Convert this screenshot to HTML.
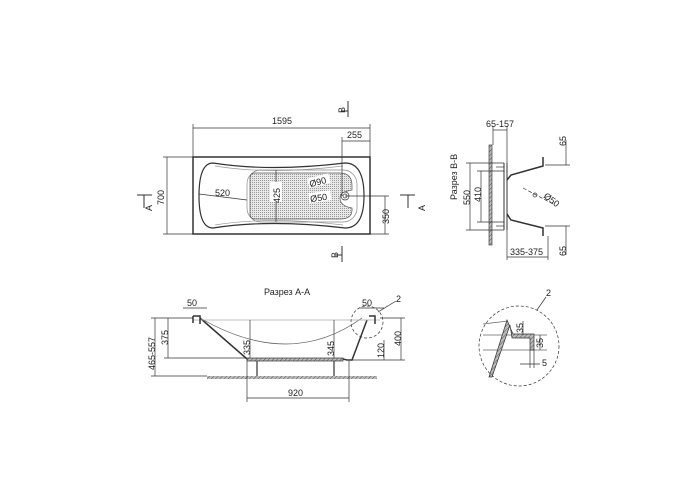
<!DOCTYPE html>
<html><head><meta charset="utf-8"><style>
html,body{margin:0;padding:0;background:#fff;width:700px;height:500px;overflow:hidden}
svg{display:block}
text{font-family:"Liberation Sans",sans-serif;font-size:9px;fill:#222}
</style></head><body>
<svg width="700" height="500" viewBox="0 0 700 500" xmlns="http://www.w3.org/2000/svg">
<defs>
<pattern id="h" width="3" height="3" patternUnits="userSpaceOnUse" patternTransform="rotate(45)"><rect width="3" height="3" fill="#bbb"/><line x1="0" y1="0" x2="0" y2="3" stroke="#555" stroke-width="1"/></pattern>
<pattern id="dots" width="2" height="2" patternUnits="userSpaceOnUse"><rect width="2" height="2" fill="#e8e8e8"/><rect width="1" height="1" fill="#999"/></pattern>
</defs>
<g stroke="#333" fill="none" stroke-width="0.7">
<!-- top view -->
<rect x="193" y="157" width="177" height="77" stroke-width="1.5"/>
<path d="M213,163 Q270,172 345,163 Q364,163 364,196 Q364,228 345,228 Q270,219 213,228 Q199,228 199,196 Q199,163 213,163Z" stroke-width="1.2"/>
<path d="M215,166 Q270,175 343,166 M215,225 Q270,216 343,225" stroke="#999"/>
<rect x="247" y="170" width="110" height="52" rx="14" stroke="#888"/>
<path d="M255,173 L340,173 Q352,173 352,186 L352,190 Q340,192 340,198 Q340,206 352,208 L352,210 Q352,219 340,219 L255,219 Q250,219 250,214 L250,178 Q250,173 255,173Z" fill="url(#dots)" stroke="#555"/>
<circle cx="345" cy="196" r="4" fill="#fff"/><circle cx="345" cy="196" r="2"/>
<line x1="193" y1="128" x2="370" y2="128"/><line x1="193" y1="124" x2="193" y2="157"/><line x1="370" y1="124" x2="370" y2="157"/>
<line x1="342" y1="141" x2="370" y2="141"/><line x1="342" y1="137" x2="342" y2="196"/>
<line x1="167" y1="157" x2="167" y2="234"/><line x1="163" y1="157" x2="193" y2="157"/><line x1="163" y1="234" x2="193" y2="234"/>
<line x1="385" y1="196" x2="385" y2="234"/><line x1="345" y1="196" x2="389" y2="196"/><line x1="370" y1="234" x2="389" y2="234"/>
<line x1="199" y1="194" x2="247" y2="200"/><line x1="276" y1="170" x2="276" y2="222"/>
<line x1="137" y1="195" x2="152" y2="195" stroke-width="1"/><line x1="144" y1="195" x2="144" y2="208" stroke-width="1"/>
<line x1="400" y1="195" x2="415" y2="195" stroke-width="1"/><line x1="408" y1="195" x2="408" y2="208" stroke-width="1"/>
<line x1="348" y1="101" x2="348" y2="117" stroke-width="1"/><line x1="341" y1="111" x2="348" y2="111" stroke-width="1"/>
<line x1="342" y1="246" x2="342" y2="262" stroke-width="1"/><line x1="335" y1="255" x2="342" y2="255" stroke-width="1"/>
<!-- section A-A -->
<rect x="207" y="376" width="170" height="3" fill="url(#h)" stroke="none"/>
<path d="M200,318 L247,359 L343,359 L347,360 L352,360 L367,320" stroke-width="1.5"/>
<rect x="247" y="358" width="96" height="3" fill="url(#h)" stroke="#333"/>
<path d="M200,318 Q290,370 362,318" stroke="#555"/>
<line x1="193" y1="320" x2="380" y2="320" stroke="#aaa"/>
<path d="M193,316 L200,316 L200,324 M193,316 L193,323" stroke-width="1.5"/>
<path d="M369,316 L375,316 L375,324" stroke-width="1.5"/>
<line x1="257" y1="361" x2="257" y2="376" stroke-width="1.2"/><line x1="334" y1="361" x2="334" y2="376" stroke-width="1.2"/>
<circle cx="367" cy="322" r="16" stroke-dasharray="3,2"/><line x1="378" y1="312" x2="396" y2="301"/>
<line x1="155" y1="318" x2="155" y2="376"/><line x1="151" y1="318" x2="193" y2="318"/><line x1="151" y1="376" x2="207" y2="376"/>
<line x1="168" y1="318" x2="168" y2="358"/><line x1="164" y1="358" x2="247" y2="358"/>
<line x1="250" y1="320" x2="250" y2="358"/><line x1="334" y1="320" x2="334" y2="358"/>
<line x1="384" y1="340" x2="384" y2="360"/><line x1="352" y1="360" x2="405" y2="360"/>
<line x1="401" y1="318" x2="401" y2="360"/><line x1="380" y1="318" x2="405" y2="318"/>
<line x1="247" y1="361" x2="247" y2="402"/><line x1="349" y1="361" x2="349" y2="402"/><line x1="247" y1="398" x2="349" y2="398"/>
<line x1="183" y1="308" x2="207" y2="308"/><line x1="360" y1="308" x2="384" y2="308"/>
<!-- section B-B -->
<rect x="489" y="145" width="3" height="100" fill="url(#h)" stroke="#444"/>
<path d="M504,163 L504,230 M507,163 L507,230" stroke-width="1"/>
<path d="M507,180 L511,175 L543,166 L543,157 M507,214 L511,220 L543,228 L543,236" stroke-width="1.5"/>
<line x1="496" y1="167" x2="504" y2="167"/><line x1="496" y1="226" x2="504" y2="226"/>
<line x1="470" y1="163" x2="470" y2="230"/><line x1="466" y1="163" x2="504" y2="163"/><line x1="466" y1="230" x2="504" y2="230"/>
<line x1="481" y1="171" x2="481" y2="222"/><line x1="477" y1="171" x2="504" y2="171"/><line x1="477" y1="222" x2="504" y2="222"/>
<line x1="493" y1="130" x2="507" y2="130"/><line x1="493" y1="126" x2="493" y2="145"/><line x1="507" y1="126" x2="507" y2="163"/>
<line x1="566" y1="140" x2="566" y2="165"/><line x1="545" y1="165" x2="570" y2="165"/>
<line x1="566" y1="226" x2="566" y2="255"/><line x1="545" y1="226" x2="570" y2="226"/>
<line x1="507" y1="257" x2="548" y2="257"/><line x1="548" y1="236" x2="548" y2="260"/><line x1="507" y1="230" x2="507" y2="260"/>
<line x1="523" y1="188" x2="555" y2="205" stroke-dasharray="4,2"/><circle cx="535" cy="195" r="2"/>
<!-- detail -->
<circle cx="519" cy="346" r="40" stroke-dasharray="3,2"/><line x1="537" y1="310" x2="546" y2="297"/>
<path d="M483,324 L508,321 M483,335 L547,335 M483,350 L547,350" stroke="#666"/>
<path d="M507,320 L489,377 L492,377 L510,325 L512,338 L530,338 L530,350 L534,350 L534,334 L513,334 Z" fill="url(#h)" stroke="#333"/>
<line x1="520" y1="364" x2="540" y2="364"/><line x1="530" y1="350" x2="530" y2="368"/><line x1="534" y1="350" x2="534" y2="368"/>
<line x1="523" y1="321" x2="523" y2="335"/><line x1="540" y1="335" x2="540" y2="350"/>
</g>
<g>
<text x="272" y="124">1595</text><text x="347" y="138">255</text>
<text x="215" y="196">520</text>
<rect x="308" y="176" width="22" height="10" fill="#fff" transform="rotate(-15 318 181)"/>
<text x="309" y="185" transform="rotate(-15 318 181)">Ø90</text>
<rect x="309" y="192" width="22" height="10" fill="#fff" transform="rotate(-8 318 197)"/>
<text x="310" y="201" transform="rotate(-8 318 197)">Ø50</text>
<rect x="270" y="182" width="12" height="20" fill="#fff"/>
<text transform="translate(280,203) rotate(-90)">425</text>
<text transform="translate(164,205) rotate(-90)">700</text>
<text transform="translate(389,224) rotate(-90)">350</text>
<text transform="translate(152,211) rotate(-90)">A</text>
<text transform="translate(425,211) rotate(-90)">A</text>
<text transform="translate(345,113) rotate(-90)">B</text>
<text transform="translate(338,258) rotate(-90)">B</text>
<text x="264" y="295">Разрез A-A</text>
<text x="187" y="306">50</text><text x="362" y="306">50</text><text x="396" y="302">2</text>
<text transform="translate(155,370) rotate(-90)">465-557</text>
<text transform="translate(168,345) rotate(-90)">375</text>
<text transform="translate(250,355) rotate(-90)">335</text>
<text transform="translate(334,356) rotate(-90)">345</text>
<text transform="translate(384,358) rotate(-90)">120</text>
<text transform="translate(401,346) rotate(-90)">400</text>
<text x="288" y="396">920</text>
<text transform="translate(457,200) rotate(-90)">Разрез B-B</text>
<text x="486" y="127">65-157</text>
<text transform="translate(470,205) rotate(-90)">550</text>
<text transform="translate(481,202) rotate(-90)">410</text>
<text transform="translate(566,146) rotate(-90)">65</text>
<text transform="translate(566,256) rotate(-90)">65</text>
<text x="510" y="255">335-375</text>
<text transform="translate(543,197) rotate(38)">Ø50</text>
<text transform="translate(523,333) rotate(-90)">35</text>
<text transform="translate(543,348) rotate(-90)">35</text>
<text x="542" y="366">5</text><text x="546" y="296">2</text>
</g>
</svg>
</body></html>
